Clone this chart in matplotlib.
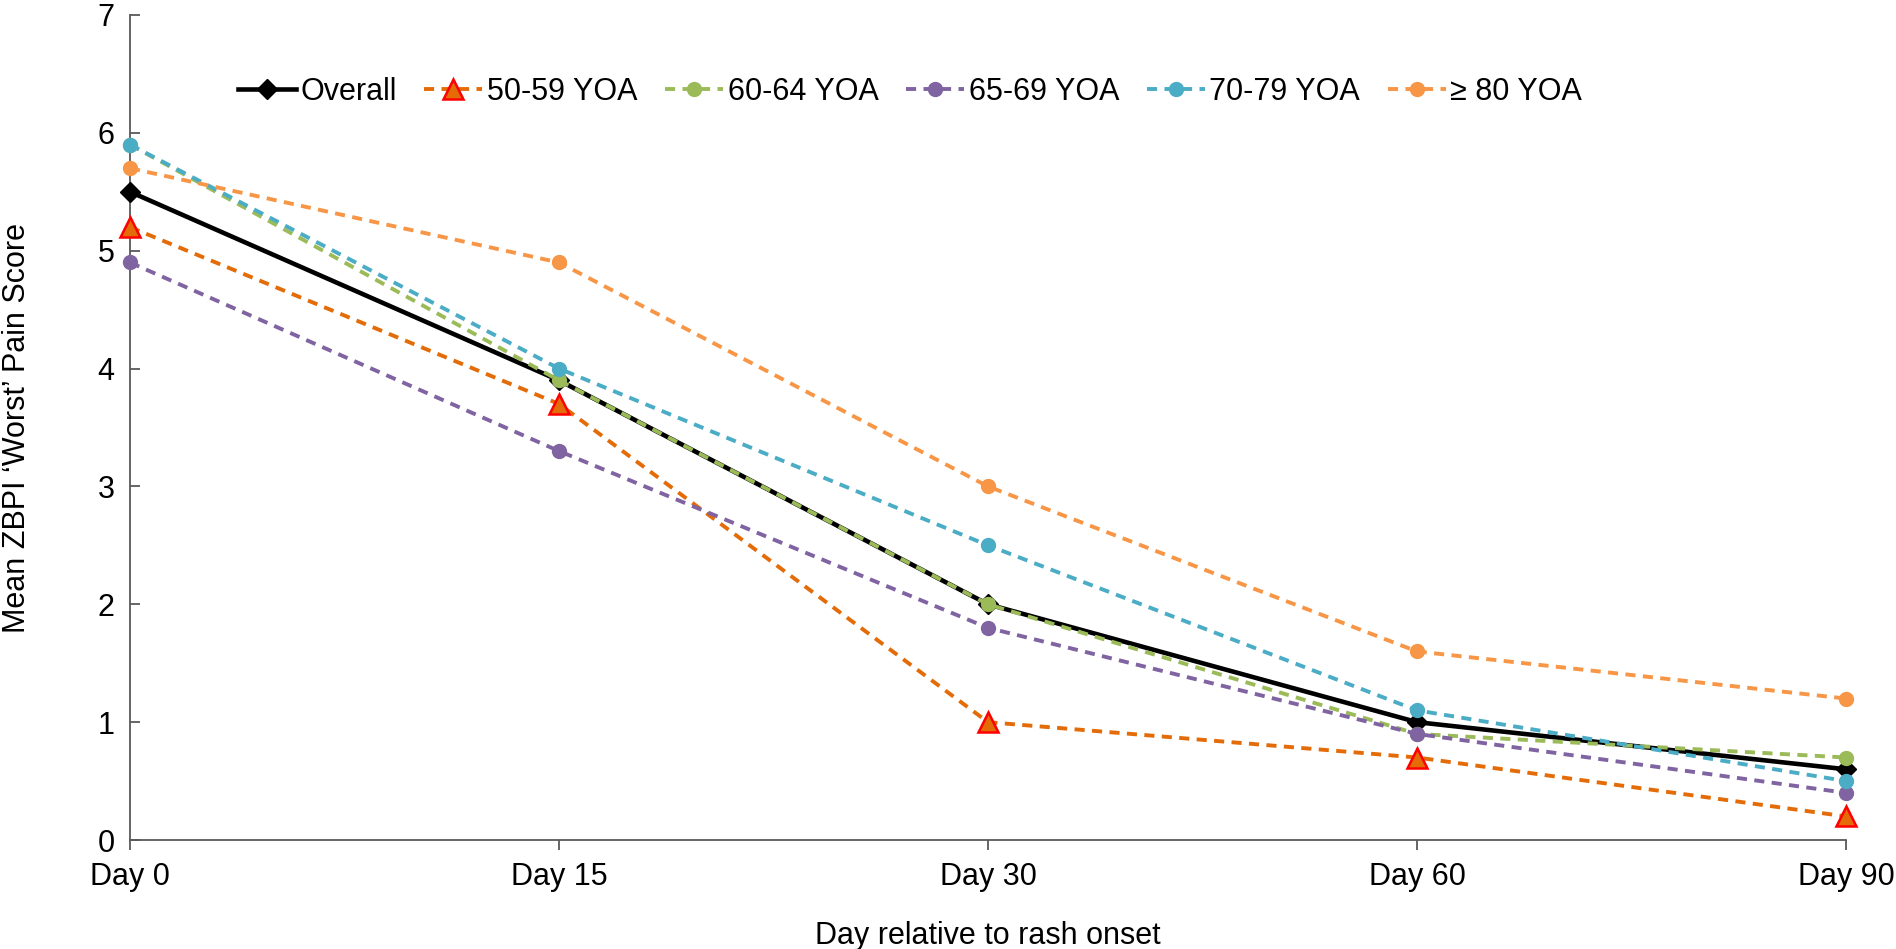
import matplotlib
matplotlib.use("Agg")
import matplotlib.pyplot as plt

categories = ["Day 0", "Day 15", "Day 30", "Day 60", "Day 90"]
overall = [5.5, 3.9, 2.0, 1.0, 0.6]
yoa_50_59 = [5.2, 3.7, 1.0, 0.7, 0.2]
yoa_60_64 = [5.9, 3.9, 2.0, 0.9, 0.7]
yoa_65_69 = [4.9, 3.3, 1.8, 0.9, 0.4]
yoa_70_79 = [5.9, 4.0, 2.5, 1.1, 0.5]
yoa_80_plus = [5.7, 4.9, 3.0, 1.6, 1.2]
series_names = ["Overall", "50-59 YOA", "60-64 YOA", "65-69 YOA", "70-79 YOA", "\u2265 80 YOA"]
y_ticks = [0, 1, 2, 3, 4, 5, 6, 7]

plt.rcParams['font.family'] = ['Liberation Sans', 'DejaVu Sans']

W, H = 1896, 949
fig = plt.figure(figsize=(W / 100, H / 100), dpi=100)
ax_l, ax_r, ax_t, ax_b = 130, 1846, 15, 840
ax = fig.add_axes([ax_l / W, 1 - ax_b / H, (ax_r - ax_l) / W, (ax_b - ax_t) / H])

x = list(range(len(categories)))
dash = (2.6, 1.9)
styles = [
    dict(color="black", lw=3.3, ls="-", marker="D", ms=10, mfc="black", mec="black"),
    dict(color="#E36C09", lw=2.8, dashes=dash, marker="^", ms=14, mfc="#E36C09", mec="#FF0000", mew=1.8),
    dict(color="#9BBB59", lw=2.8, dashes=dash, marker="o", ms=10, mfc="#9BBB59", mec="#9BBB59"),
    dict(color="#8064A2", lw=2.8, dashes=dash, marker="o", ms=10, mfc="#8064A2", mec="#8064A2"),
    dict(color="#4BACC6", lw=2.8, dashes=dash, marker="o", ms=10, mfc="#4BACC6", mec="#4BACC6"),
    dict(color="#F79646", lw=2.8, dashes=dash, marker="o", ms=10, mfc="#F79646", mec="#F79646"),
]
data = [overall, yoa_50_59, yoa_60_64, yoa_65_69, yoa_70_79, yoa_80_plus]
for i, (vals, name, st) in enumerate(zip(data, series_names, styles)):
    ax.plot(x, vals, label=name, clip_on=False, zorder=3 + i, **st)

ax.set_xlim(0, len(categories) - 1)
ax.set_ylim(0, 7)
ax.set_xticks(x)
ax.set_xticklabels(categories)
ax.set_yticks(y_ticks)
ax.set_yticklabels([str(t) for t in y_ticks])

for s in ["top", "right"]:
    ax.spines[s].set_visible(False)
for s in ["left", "bottom"]:
    ax.spines[s].set_color("#595959")
    ax.spines[s].set_linewidth(1.3)

ax.tick_params(axis="y", direction="in", length=7, width=1.3, color="#595959",
               labelsize=22, pad=11)
ax.tick_params(axis="x", direction="out", length=7, width=1.3, color="#595959",
               labelsize=22, pad=9)

fig.text(988 / W, 1 - 936 / H, "Day relative to rash onset", ha="center", va="center", fontsize=22)
fig.text(17 / W, 1 - 428 / H, "Mean ZBPI \u2018Worst\u2019 Pain Score", ha="center", va="center",
         rotation=90, fontsize=22)

leg = fig.legend(loc="center", bbox_to_anchor=(910 / W, 1 - 92 / H), ncol=6, frameon=False,
                 fontsize=22, handlelength=1.9, handletextpad=0.15, columnspacing=0.9,
                 borderaxespad=0)

fig.savefig("out.png", dpi=100, facecolor="white")
